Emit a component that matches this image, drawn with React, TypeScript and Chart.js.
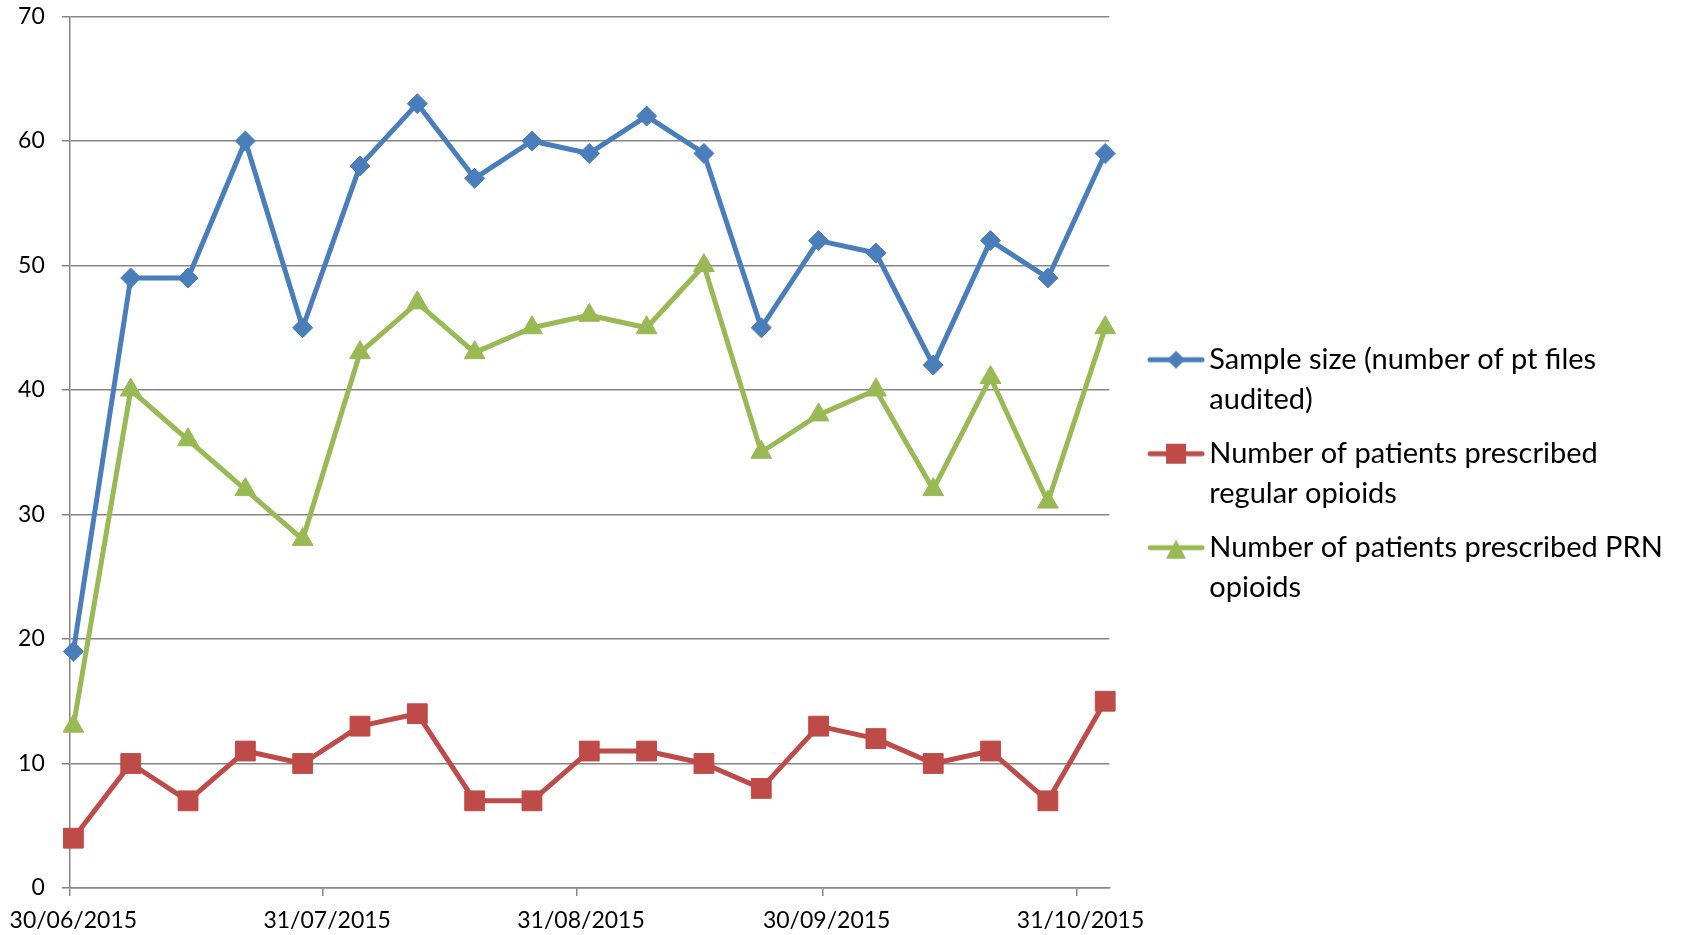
import React, { useEffect, useRef } from 'react';
import Chart from 'chart.js/auto';

// weekly audit dates and counts
const auditDates = [
  '30/06/2015', '07/07/2015', '14/07/2015', '21/07/2015', '28/07/2015',
  '04/08/2015', '11/08/2015', '18/08/2015', '25/08/2015', '01/09/2015',
  '08/09/2015', '15/09/2015', '22/09/2015', '29/09/2015', '06/10/2015',
  '13/10/2015', '20/10/2015', '27/10/2015', '03/11/2015',
];
const sampleSize = [19, 49, 49, 60, 45, 58, 63, 57, 60, 59, 62, 59, 45, 52, 51, 42, 52, 49, 59];
const regularOpioids = [4, 10, 7, 11, 10, 13, 14, 7, 7, 11, 11, 10, 8, 13, 12, 10, 11, 7, 15];
const prnOpioids = [13, 40, 36, 32, 28, 43, 47, 43, 45, 46, 45, 50, 35, 38, 40, 32, 41, 31, 45];

const tickLabels = ['30/06/2015', '31/07/2015', '31/08/2015', '30/09/2015', '31/10/2015'];
const yTicks = [0, 10, 20, 30, 40, 50, 60, 70];

const seriesNames = [
  'Sample size (number of pt files audited)',
  'Number of patients prescribed regular opioids',
  'Number of patients prescribed PRN opioids',
];
const legendLines = [
  ['Sample size (number of pt files', 'audited)'],
  ['Number of patients prescribed', 'regular opioids'],
  ['Number of patients prescribed PRN', 'opioids'],
];

const colors = ['#4a7ebb', '#be4b48', '#98b954'];
const shapes = ['rectRot', 'rect', 'triangle'];
const gridColor = '#868686';
const FONT = 'Lato';

const dayOf = (s: string) => {
  const [d, m, y] = s.split('/').map(Number);
  const [d0, m0, y0] = tickLabels[0].split('/').map(Number);
  return (Date.UTC(y, m - 1, d) - Date.UTC(y0, m0 - 1, d0)) / 86400000;
};

// Excel-style legend key: a short line with the marker in the middle
const makeSwatch = (color: string, shape: string) => {
  const c = document.createElement('canvas');
  c.width = 100;
  c.height = 28;
  const g = c.getContext('2d')!;
  g.strokeStyle = color;
  g.fillStyle = color;
  g.lineWidth = 5;
  g.lineCap = 'round';
  g.beginPath();
  g.moveTo(41, 14);
  g.lineTo(93, 14);
  g.stroke();
  g.beginPath();
  if (shape === 'rectRot') {
    g.moveTo(67, 5); g.lineTo(76, 14); g.lineTo(67, 23); g.lineTo(58, 14);
  } else if (shape === 'rect') {
    g.rect(57, 4, 20, 20);
  } else {
    g.moveTo(67, 6); g.lineTo(77, 25); g.lineTo(57, 25);
  }
  g.closePath();
  g.fill();
  return c;
};

const App = () => {
  const chartRef = useRef<HTMLCanvasElement | null>(null);
  const chartInstance = useRef<Chart | null>(null);

  useEffect(() => {
    document.body.style.margin = '0';
    if (chartInstance.current) {
      chartInstance.current.destroy();
    }
    if (!chartRef.current) return;
    const ctx = chartRef.current.getContext('2d');
    if (!ctx) return;

    const plotLeft = 69.3;
    const plotRight = 1109.3;
    const plotBottom = 888;

    const legendFontSize = 29;
    const boxW = 71.5;
    ctx.font = `${legendFontSize}px ${FONT}`;
    const longest = legendLines.flat().reduce((a, b) => (a.length > b.length ? a : b));
    const legendW = 14 + boxW + legendFontSize / 2 + ctx.measureText(longest).width + 10;
    const padRight = Math.max(0, 1686 - plotRight - legendW);

    const swatches = colors.map((c, i) => makeSwatch(c, shapes[i]));
    const tickDays = tickLabels.map(dayOf);
    const series = [sampleSize, regularOpioids, prnOpioids];
    const radii = [10, 14, 12];

    chartInstance.current = new Chart(ctx, {
      type: 'line',
      data: {
        datasets: series.map((values, i) => ({
          label: seriesNames[i],
          data: values.map((v, j) => ({ x: dayOf(auditDates[j]) + 0.5, y: v })),
          borderColor: colors[i],
          backgroundColor: colors[i],
          pointBackgroundColor: colors[i],
          pointBorderColor: colors[i],
          pointBorderWidth: 1,
          pointStyle: shapes[i] as any,
          pointRadius: radii[i],
          borderWidth: 5,
          borderJoinStyle: 'round' as const,
          tension: 0,
          clip: false as any,
          order: 3 - i,
        })),
      },
      options: {
        responsive: false,
        animation: false,
        layout: { padding: { left: 0, top: 16.5, right: padRight, bottom: 0 } },
        scales: {
          x: {
            type: 'linear',
            min: 0,
            max: 127,
            afterBuildTicks: (scale: any) => {
              scale.ticks = tickDays.map((value) => ({ value }));
            },
            afterFit: (scale: any) => {
              scale.paddingLeft = 0;
              scale.paddingRight = 0;
              scale.height = 935 - plotBottom;
            },
            ticks: {
              autoSkip: false,
              maxRotation: 0,
              padding: 11,
              labelOffset: 4,
              color: '#000',
              font: { family: FONT, size: 23 },
              callback: (_v: any, index: number) => tickLabels[index],
            },
            grid: { drawOnChartArea: false, drawTicks: true, tickLength: 8, color: gridColor, lineWidth: 1.5 },
            border: { color: gridColor, width: 1.5 },
          },
          y: {
            min: yTicks[0],
            max: yTicks[yTicks.length - 1],
            afterFit: (scale: any) => {
              scale.paddingTop = 0;
              scale.paddingBottom = 0;
              scale.width = plotLeft;
            },
            ticks: {
              stepSize: 10,
              padding: 17,
              color: '#000',
              font: { family: FONT, size: 23 },
            },
            grid: { color: gridColor, lineWidth: 1.5, tickLength: 7.5 },
            border: { color: gridColor, width: 1.5 },
          },
        },
        plugins: {
          legend: {
            position: 'right',
            align: 'center',
            maxWidth: 900,
            title: { display: true, text: '', padding: { top: 6, bottom: 0 }, font: { size: 1, lineHeight: 1 } },
            labels: {
              usePointStyle: true,
              pointStyleWidth: boxW,
              padding: 14,
              color: '#000',
              font: { family: FONT, size: legendFontSize, lineHeight: 40 / legendFontSize },
              generateLabels: (chart: Chart) =>
                Chart.defaults.plugins.legend.labels.generateLabels(chart).map((item: any) => ({
                  ...item,
                  text: legendLines[item.datasetIndex],
                  pointStyle: swatches[item.datasetIndex],
                })),
              sort: (a: any, b: any) => a.datasetIndex - b.datasetIndex,
            },
          },
          tooltip: { enabled: false },
        },
      },
    } as any);

    return () => {
      if (chartInstance.current) {
        chartInstance.current.destroy();
        chartInstance.current = null;
      }
    };
  }, []);

  return (
    <div style={{ width: 1686, height: 935 }}>
      <canvas ref={chartRef} width={1686} height={935} style={{ display: 'block' }} />
    </div>
  );
};

export default App;
